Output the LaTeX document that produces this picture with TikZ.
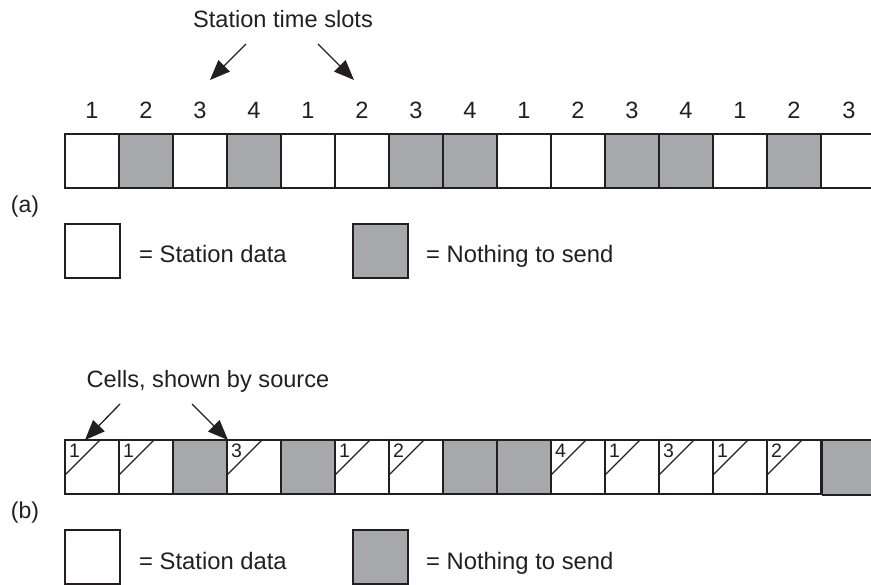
\documentclass[tikz,border=0pt]{standalone}
\usepackage{fontspec}
\setmainfont{Liberation Sans}
\usetikzlibrary{arrows.meta}
\definecolor{slotgray}{RGB}{167,168,172}
\definecolor{ink}{RGB}{35,31,32}
\begin{document}
\begin{tikzpicture}[x=1pt,y=-1pt,
  cellbox/.style={draw=ink, line width=1.2pt, minimum width=54pt, minimum height=54pt, inner sep=0pt, outer sep=0pt, anchor=north west},
  legbox/.style={draw=ink, line width=1.2pt, minimum width=55pt, minimum height=54pt, inner sep=0pt, outer sep=0pt, anchor=north west},
  bigtext/.style={font=\fontsize{23.6}{28}\selectfont, text=ink, inner sep=0pt},
  legtext/.style={font=\fontsize{23.8}{28}\selectfont, text=ink, inner sep=0pt, anchor=base west},
  partlab/.style={font=\fontsize{23}{27}\selectfont, text=ink, inner sep=0pt},
  smallnum/.style={font=\fontsize{19.5}{22}\selectfont, text=ink, inner sep=0pt, anchor=north west},
  pointer/.style={draw=ink, line width=1.3pt, -{Triangle[length=20pt,width=16pt]}},
  edge/.style={draw=ink, line width=1.2pt}
]
\useasboundingbox (0,0) rectangle (871,585);

% ---------- (a) ----------
\node[bigtext, anchor=base] (atitle) at (283,28) {Station time slots};
\coordinate (as1) at (246,44); \coordinate (at1) at (210,80);
\coordinate (as2) at (318,44); \coordinate (at2) at (354,80);
\draw[pointer] (as1) -- (at1);
\draw[pointer] (as2) -- (at2);

\foreach \i/\c/\n in {1/white/1,2/slotgray/2,3/white/3,4/slotgray/4,5/white/1,6/white/2,7/slotgray/3,8/slotgray/4,9/white/1,10/white/2,11/slotgray/3,12/slotgray/4,13/white/1,14/slotgray/2}{
  \node[cellbox, fill=\c] (a\i) at ({65+54*(\i-1)},134) {};
  \node[bigtext] (an\i) at ({92+54*(\i-1)},110) {\n};
}
\coordinate (a15) at (822,134);
\coordinate (a15b) at (822,188);
\coordinate (a15e) at (871,134);
\coordinate (a15be) at (871,188);
\draw[edge] (a15) -- (a15e);
\draw[edge] (a15b) -- (a15be);
\node[bigtext] (an15) at (849,110) {3};

\node[partlab] (alab) at (25,207) {(a)};
\node[legbox, fill=white] (alw) at (65,224) {};
\node[legtext] (alwt) at (139,263) {= Station data};
\node[legbox, fill=slotgray] (alg) at (353,224) {};
\node[legtext] (algt) at (426,263) {= Nothing to send};

% ---------- (b) ----------
\node[bigtext, anchor=base] (btitle) at (208,388) {Cells, shown by source};
\coordinate (bs1) at (120,404); \coordinate (bt1) at (85,440);
\coordinate (bs2) at (192,404); \coordinate (bt2) at (228,440);
\draw[pointer] (bs1) -- (bt1);
\draw[pointer] (bs2) -- (bt2);

\foreach \i in {3,5,8,9}{
  \node[cellbox, fill=slotgray] (b\i) at ({65+54*(\i-1)},440) {};
}
\foreach \i/\n in {1/1,2/1,4/3,6/1,7/2,10/4,11/1,12/3,13/1,14/2}{
  \node[cellbox, fill=white] (b\i) at ({65+54*(\i-1)},440) {};
  \draw[edge] ([yshift=-35pt]b\i.north west) -- ([xshift=35pt]b\i.north west);
  \node[smallnum] (bn\i) at ([xshift=4pt,yshift=-4pt]b\i.north west) {\n};
}
\coordinate (b15) at (822,440);
\coordinate (b15e) at (871,495);
\fill[slotgray] (b15) rectangle (b15e);
\draw[edge] (822,440) -- (871,440);
\draw[edge] (822,495) -- (871,495);
\draw[edge] (822,440) -- (822,495);

\node[partlab] (blab) at (25,513) {(b)};
\node[legbox, fill=white] (blw) at (65,530) {};
\node[legtext] (blwt) at (139,569) {= Station data};
\node[legbox, fill=slotgray] (blg) at (353,530) {};
\node[legtext] (blgt) at (426,569) {= Nothing to send};
\end{tikzpicture}
\end{document}
